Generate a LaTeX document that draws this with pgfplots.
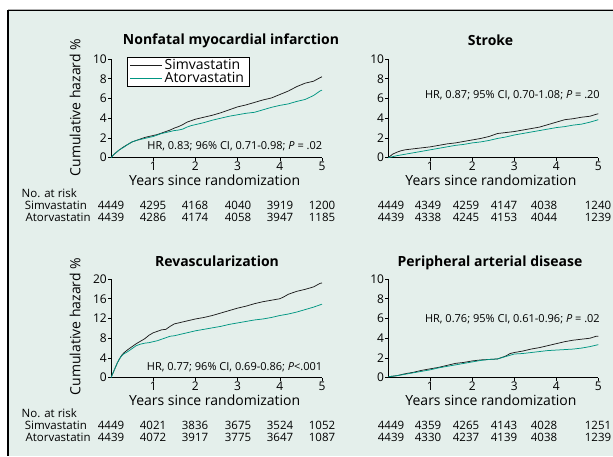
\documentclass[border=0pt]{standalone}
\usepackage{pgfplots}
\pgfplotsset{compat=1.18}
\usepackage{fontspec}
\setmainfont{Open Sans}
\definecolor{bgc}{RGB}{228,239,235}
\definecolor{tealc}{RGB}{0,150,130}
\definecolor{blk}{RGB}{30,30,30}
\newcommand{\fs}[1]{\fontsize{#1}{#1}\selectfont}
\pgfplotsset{km/.style={
  scale only axis, width=211pt, height=98.7pt,
  xmin=0, xmax=5, ymin=0,
  axis lines*=left, clip=false,
  xtick={1,2,3,4,5},
  tick align=outside, major tick length=3pt,
  tick style={black, line width=0.6pt},
  axis line style={black, line width=0.7pt},
  tick label style={font=\fs{12}},
  /pgf/number format/assume math mode=true,
  xticklabel style={inner sep=1pt},
  yticklabel style={inner sep=1pt},
  every axis plot/.append style={sharp plot, line width=0.75pt},
}}
\begin{document}
\begin{tikzpicture}
\useasboundingbox (0,0) rectangle (613pt,456pt);
\fill[white] (0,0) rectangle (613pt,456pt);
\fill[bgc] (8pt,0) rectangle (613pt,445.5pt);
\draw[gray!60, line width=0.5pt] (8pt,446.8pt) -- (613pt,446.8pt);
\draw[black, line width=1.1pt] (8pt,445.6pt) -- (613pt,445.6pt);
\draw[black, line width=1.1pt] (8pt,446pt) -- (8pt,0);

% Panel 1
\begin{axis}[km, at={(111pt,298.3pt)}, anchor=south west, ymax=10, ytick={0,2,...,10},
  legend style={at={(rel axis cs:0.074,1.023)}, anchor=north west, draw=black, line width=0.6pt, fill=white,
    font=\fs{14}, inner xsep=3pt, inner ysep=0.5pt, row sep=-3pt, cells={anchor=west}},
  legend image code/.code={\draw[#1] (0pt,0pt) -- (32pt,0pt);}]
\addplot[blk] coordinates {(0,0) (0.05,0.25) (0.1,0.45) (0.2,0.8) (0.3,1.1) (0.4,1.35) (0.5,1.6) (0.6,1.75) (0.7,1.9) (0.8,2.05) (0.9,2.15) (1.0,2.25) (1.1,2.35) (1.2,2.5) (1.3,2.65) (1.4,2.8) (1.5,3.0) (1.6,3.15) (1.7,3.35) (1.8,3.6) (1.9,3.75) (2.0,3.9) (2.2,4.1) (2.4,4.3) (2.6,4.55) (2.8,4.85) (3.0,5.15) (3.2,5.35) (3.4,5.6) (3.6,5.85) (3.8,6.05) (4.0,6.4) (4.2,6.75) (4.4,7.2) (4.6,7.55) (4.8,7.75) (4.95,8.1) (5.0,8.2)};
\addlegendentry{Simvastatin}
\addplot[tealc] coordinates {(0,0) (0.05,0.25) (0.1,0.45) (0.2,0.8) (0.3,1.05) (0.4,1.35) (0.5,1.6) (0.6,1.75) (0.7,1.85) (0.8,1.95) (0.9,2.05) (1.0,2.15) (1.1,2.3) (1.2,2.45) (1.3,2.55) (1.4,2.65) (1.5,2.75) (1.6,2.8) (1.7,2.9) (1.8,3.1) (1.9,3.25) (2.0,3.35) (2.2,3.55) (2.4,3.8) (2.6,4.0) (2.8,4.2) (3.0,4.35) (3.2,4.5) (3.4,4.6) (3.6,4.85) (3.8,5.1) (4.0,5.3) (4.2,5.45) (4.4,5.7) (4.6,5.9) (4.8,6.3) (4.95,6.75) (5.0,6.85)};
\addlegendentry{Atorvastatin}
\node[anchor=base east, font=\fs{11}, inner sep=0pt] at (axis cs:5.01,0.88) {HR, 0.83; 96\% CI, 0.71-0.98; \textit{P} = .02};
\end{axis}

% Panel 2
\begin{axis}[km, at={(388.3pt,298.3pt)}, anchor=south west, width=210pt, ymax=10, ytick={0,2,...,10}]
\addplot[blk] coordinates {(0,0) (0.1,0.35) (0.2,0.55) (0.3,0.7) (0.4,0.8) (0.6,0.9) (0.8,1.0) (1.0,1.1) (1.2,1.25) (1.4,1.4) (1.6,1.5) (1.8,1.65) (2.0,1.8) (2.2,1.95) (2.4,2.15) (2.6,2.45) (2.8,2.55) (3.0,2.65) (3.2,2.8) (3.4,2.95) (3.6,3.1) (3.8,3.35) (4.0,3.6) (4.2,3.85) (4.4,3.95) (4.6,4.1) (4.8,4.2) (4.95,4.4) (5.0,4.45)};
\addplot[tealc] coordinates {(0,0) (0.1,0.1) (0.2,0.2) (0.4,0.35) (0.6,0.5) (0.8,0.65) (1.0,0.8) (1.2,0.95) (1.4,1.1) (1.6,1.25) (1.8,1.35) (2.0,1.5) (2.2,1.6) (2.4,1.75) (2.6,1.95) (2.8,2.1) (3.0,2.3) (3.2,2.45) (3.4,2.6) (3.6,2.75) (3.8,2.9) (4.0,3.05) (4.2,3.15) (4.4,3.3) (4.6,3.4) (4.8,3.6) (5.0,3.85)};
\node[anchor=base east, font=\fs{11}, inner sep=0pt] at (axis cs:5.04,6.0) {HR, 0.87; 95\% CI, 0.70-1.08; \textit{P} = .20};
\end{axis}

% Panel 3
\begin{axis}[km, at={(111pt,78.3pt)}, anchor=south west, ymax=20, ytick={0,4,...,20}]
\addplot[blk] coordinates {(0,0) (0.05,1.0) (0.1,2.0) (0.15,3.0) (0.2,3.8) (0.25,4.5) (0.3,5.0) (0.4,5.7) (0.5,6.3) (0.6,6.9) (0.7,7.4) (0.8,7.9) (0.9,8.6) (1.0,9.1) (1.1,9.4) (1.2,9.7) (1.3,9.8) (1.4,10.4) (1.5,10.9) (1.6,11.1) (1.8,11.5) (2.0,11.9) (2.2,12.2) (2.4,12.6) (2.6,13.1) (2.8,13.6) (3.0,14.1) (3.2,14.5) (3.4,15.0) (3.6,15.4) (3.8,15.7) (4.0,16.0) (4.1,16.4) (4.2,16.9) (4.4,17.5) (4.6,17.9) (4.8,18.4) (4.95,19.1) (5.0,19.2)};
\addplot[tealc] coordinates {(0,0) (0.05,1.0) (0.1,2.0) (0.15,3.0) (0.2,3.8) (0.25,4.4) (0.3,4.8) (0.4,5.3) (0.5,5.9) (0.6,6.5) (0.7,6.8) (0.8,7.0) (0.9,7.1) (1.0,7.3) (1.1,7.5) (1.2,7.8) (1.3,8.1) (1.4,8.4) (1.5,8.5) (1.6,8.7) (1.8,9.1) (2.0,9.5) (2.2,9.8) (2.4,10.1) (2.6,10.4) (2.8,10.8) (3.0,11.1) (3.2,11.4) (3.4,11.7) (3.6,11.9) (3.8,12.2) (4.0,12.6) (4.2,12.9) (4.4,13.3) (4.6,13.8) (4.8,14.3) (5.0,14.9)};
\node[anchor=base east, font=\fs{11}, inner sep=0pt] at (axis cs:5.01,1.42) {HR, 0.77; 96\% CI, 0.69-0.86; \textit{P}<.001};
\end{axis}

% Panel 4
\begin{axis}[km, at={(388.3pt,78.3pt)}, anchor=south west, width=210pt, ymax=10, ytick={0,2,...,10}]
\addplot[blk] coordinates {(0,0.1) (0.2,0.2) (0.4,0.4) (0.6,0.55) (0.8,0.75) (1.0,0.9) (1.2,1.05) (1.4,1.25) (1.6,1.45) (1.8,1.55) (2.0,1.7) (2.2,1.8) (2.4,1.85) (2.6,1.9) (2.8,2.2) (2.9,2.45) (3.0,2.55) (3.2,2.7) (3.4,2.9) (3.6,3.05) (3.8,3.25) (4.0,3.45) (4.2,3.65) (4.4,3.8) (4.6,3.9) (4.8,4.0) (4.95,4.2) (5.0,4.2)};
\addplot[tealc] coordinates {(0,0.1) (0.2,0.2) (0.4,0.35) (0.6,0.5) (0.8,0.65) (1.0,0.8) (1.2,1.0) (1.4,1.15) (1.6,1.3) (1.8,1.45) (2.0,1.6) (2.2,1.75) (2.4,1.85) (2.6,1.9) (2.8,2.15) (3.0,2.4) (3.2,2.45) (3.4,2.55) (3.6,2.65) (3.8,2.75) (4.0,2.8) (4.2,2.85) (4.4,2.9) (4.6,3.0) (4.8,3.15) (5.0,3.35)};
\node[anchor=base east, font=\fs{11}, inner sep=0pt] at (axis cs:5.04,5.6) {HR, 0.76; 95\% CI, 0.61-0.96; \textit{P} = .02};
\end{axis}

\begin{scope}[shift={(0pt,456pt)}, x=1pt, y=-1pt]
\node[font=\bfseries\fs{14}] at (231,40.7) {Nonfatal myocardial infarction};
\node[font=\bfseries\fs{14}] at (490.5,40.7) {Stroke};
\node[font=\bfseries\fs{14}] at (217,261.7) {Revascularization};
\node[font=\bfseries\fs{14}] at (490,262.7) {Peripheral arterial disease};
\node[font=\fs{14}, rotate=90] at (75,107.5) {Cumulative hazard \%};
\node[font=\fs{14}, rotate=90] at (75,326.5) {Cumulative hazard \%};
\node[font=\fs{14}] at (214.7,180.7) {Years since randomization};
\node[font=\fs{14}] at (491,180.7) {Years since randomization};
\node[font=\fs{14}] at (214.7,400.7) {Years since randomization};
\node[font=\fs{14}] at (491,400.7) {Years since randomization};
\foreach \dy/\sa/\sb/\sc/\sd/\se/\sf/\ta/\tb/\tc/\td/\te/\tf/\ua/\ub/\uc/\ud/\ue/\uf/\va/\vb/\vc/\vd/\ve/\vf in {
  0/4449/4295/4168/4040/3919/1200/4439/4286/4174/4058/3947/1185/4449/4349/4259/4147/4038/1240/4439/4338/4245/4153/4044/1239,
  220/4449/4021/3836/3675/3524/1052/4439/4072/3917/3775/3647/1087/4449/4359/4265/4143/4028/1251/4439/4330/4237/4139/4038/1239}{
  \begin{scope}[yshift=-\dy pt, font=\fs{11.5}]
  \node[anchor=west, inner sep=0pt] at (21.5,193.5) {No. at risk};
  \node[anchor=west, inner sep=0pt] at (24.6,205.5) {Simvastatin};
  \node[anchor=west, inner sep=0pt] at (25.4,217.5) {Atorvastatin};
  \foreach \x/\a/\b in {111/\sa/\ta,153/\sb/\tb,195/\sc/\tc,238/\sd/\td,280/\se/\te,322/\sf/\tf,
                        391/\ua/\va,428/\ub/\vb,466/\uc/\vc,504/\ud/\vd,544/\ue/\ve,598/\uf/\vf}{
    \node[inner sep=0pt] at (\x,205.5) {\a};
    \node[inner sep=0pt] at (\x,217.5) {\b};
  }
  \end{scope}
}
\end{scope}
\end{tikzpicture}
\end{document}
